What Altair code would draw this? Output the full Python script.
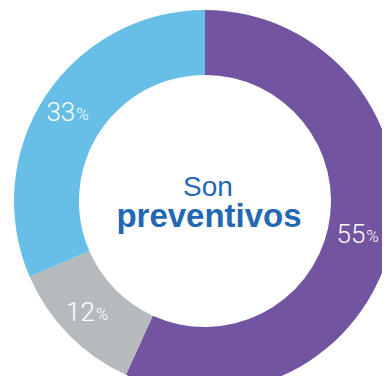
import altair as alt
import pandas as pd

# Slices, clockwise from 12 o'clock
categories = ["Sí", "Parcial", "No"]
shares = [56.8, 11.7, 31.5]          # drawn angular share
numbers = ["55", "12", "33"]          # printed labels
colors = ["#7354A0", "#B7BABD", "#67BEE6"]
order = [1, 2, 3]

center_line1 = "Son"
center_line2 = "preventivos"

df = pd.DataFrame({"cat": categories, "share": shares, "num": numbers, "ord": order})

CX, CY = 197, 193
R_OUT, R_IN = 191, 126
R_LAB = 160

base = alt.Chart(df).encode(
    theta=alt.Theta("share:Q", stack=True),
    order=alt.Order("ord:Q"),
)

arc = base.mark_arc(outerRadius=R_OUT, innerRadius=R_IN, stroke=None).encode(
    color=alt.Color("cat:N", scale=alt.Scale(domain=categories, range=colors), legend=None),
    x=alt.value(CX), y=alt.value(CY),
)

num_txt = base.mark_text(
    radius=R_LAB, font="Roboto", fontWeight=300, fontSize=26, color="white",
    align="right", baseline="middle", dx=4,
).encode(text="num:N", x=alt.value(CX), y=alt.value(CY))

pct_txt = base.mark_text(
    radius=R_LAB, font="Roboto", fontWeight=300, fontSize=17, color="white",
    align="left", baseline="middle", dx=5, dy=2,
).encode(text=alt.value("%"), x=alt.value(CX), y=alt.value(CY))

t1 = alt.Chart(pd.DataFrame({"t": [center_line1]})).mark_text(
    font="Liberation Sans", fontWeight=300, fontSize=28, color="#2468B3",
    align="center", baseline="alphabetic",
).encode(text="t:N", x=alt.value(CX + 3), y=alt.value(188))

t2 = alt.Chart(pd.DataFrame({"t": [center_line2]})).mark_text(
    font="Liberation Sans", fontWeight="bold", fontSize=33, color="#2468B3",
    align="center", baseline="alphabetic",
).encode(text="t:N", x=alt.value(CX + 4), y=alt.value(219))

chart = alt.layer(arc, num_txt, pct_txt, t1, t2).properties(
    width=374, height=368, padding=0, autosize=alt.AutoSizeParams(type="none")
).configure_view(stroke=None)

chart.save("out.html", embed_options={"renderer": "svg", "actions": False})
